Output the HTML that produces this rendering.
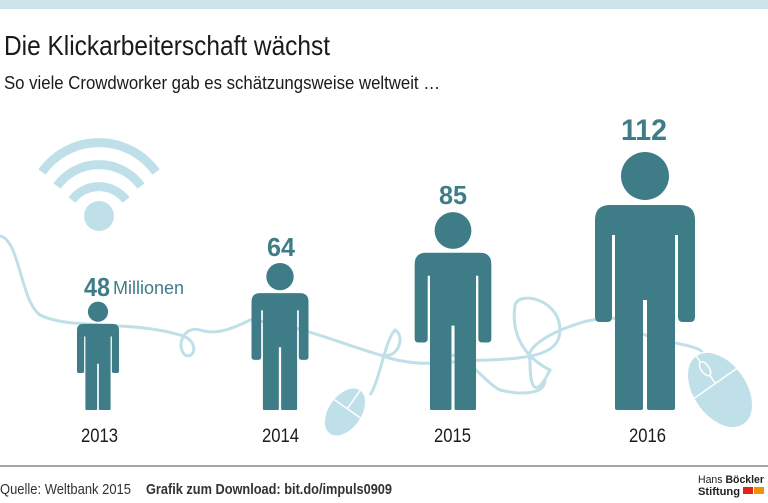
<!DOCTYPE html>
<html><head><meta charset="utf-8"><style>
body{margin:0;width:768px;height:498px;background:#fff;overflow:hidden;font-family:"Liberation Sans",sans-serif;}
</style></head><body>
<svg width="768" height="498" viewBox="0 0 768 498" xmlns="http://www.w3.org/2000/svg">
<defs>
<path id="fig" d="M-50,-190 Q-50,-205 -35,-205 L35,-205 Q50,-205 50,-190 L50,-93 Q50,-88 45,-88 L38,-88 Q33,-88 33,-93 L33,-175 L30,-175 L30,-2 Q30,0 28,0 L4,0 Q2,0 2,-2 L2,-110 L-2,-110 L-2,-2 Q-2,0 -4,0 L-28,0 Q-30,0 -30,-2 L-30,-175 L-33,-175 L-33,-93 Q-33,-88 -38,-88 L-45,-88 Q-50,-88 -50,-93 Z"/>
</defs>
<rect x="0" y="0" width="768" height="9" fill="#cde3ec"/>
<text x="4" y="55" font-size="28" fill="#1a1a1a" textLength="326" lengthAdjust="spacingAndGlyphs">Die Klickarbeiterschaft wächst</text>
<text x="4" y="89" font-size="18" fill="#1a1a1a" textLength="436" lengthAdjust="spacingAndGlyphs">So viele Crowdworker gab es schätzungsweise weltweit …</text>
<!-- wifi -->
<g fill="none" stroke="#bfe0e8" stroke-width="9">
<path d="M42,172 A70,70 0 0 1 156,172"/>
<path d="M57,186 A52,52 0 0 1 141,186"/>
<path d="M72,200 A34,34 0 0 1 126,200"/>
</g>
<ellipse cx="99" cy="216" rx="15" ry="15" fill="#bfe0e8"/>
<!-- cable -->
<g fill="none" stroke="#bfe0e8" stroke-width="3">
<path d="M0,236 C20,240 20,300 40,315 C70,330 130,320 180,335 C200,340 195,360 185,355 C175,345 185,325 200,330 C215,335 230,330 250,320 C300,325 330,340 380,355 C400,360 405,335 395,330 C385,340 380,380 370,395"/>
<path d="M380,355 C420,370 450,360 490,360 C530,358 560,355 560,330 C560,300 520,290 515,305 C510,340 530,360 550,370 C540,390 530,400 530,360 C520,340 600,310 620,320 C650,345 680,340 700,350 L705,355"/>
<path d="M430,360 C460,340 480,380 500,390 C520,395 545,395 545,380"/>
</g>
<g transform="translate(345,412) rotate(35)" fill="#bfe0e8" stroke="#fff" stroke-width="1.5">
<ellipse cx="0" cy="0" rx="17" ry="27"/>
<line x1="-17" y1="-4" x2="17" y2="-4"/><line x1="0" y1="-27" x2="0" y2="-4"/>
</g>
<g transform="translate(720,390) rotate(-35)" fill="#bfe0e8" stroke="#fff" stroke-width="1.5">
<ellipse cx="0" cy="0" rx="27" ry="42"/>
<line x1="-27" y1="-8" x2="27" y2="-8"/><line x1="0" y1="-42" x2="0" y2="-8"/>
<ellipse cx="0" cy="-26" rx="4" ry="8" stroke="#fff" fill="#bfe0e8"/>
</g>
<!-- figures -->
<g fill="#3e7d87">
<g transform="translate(98,410) scale(0.42)"><use href="#fig"/><circle cx="0" cy="-234" r="24"/></g>
<g transform="translate(280,410) scale(0.57)"><use href="#fig"/><circle cx="0" cy="-234" r="24"/></g>
<g transform="translate(453,410) scale(0.767)"><use href="#fig"/><circle cx="0" cy="-234" r="24"/></g>
<g transform="translate(645,410) scale(1)"><use href="#fig"/><circle cx="0" cy="-234" r="24"/></g>
</g>
<g fill="#3e7d87" font-weight="bold" font-size="26" lengthAdjust="spacingAndGlyphs">
<text x="84" y="296" textLength="26" lengthAdjust="spacingAndGlyphs">48</text>
<text x="267" y="256" textLength="28" lengthAdjust="spacingAndGlyphs">64</text>
<text x="439" y="204" textLength="28" lengthAdjust="spacingAndGlyphs">85</text>
<text x="621" y="140" font-size="30" textLength="46" lengthAdjust="spacingAndGlyphs">112</text>
</g>
<text x="113" y="294" font-size="18" fill="#3e7d87" textLength="71" lengthAdjust="spacingAndGlyphs">Millionen</text>
<g font-size="19" fill="#1a1a1a">
<text x="81" y="442" textLength="37" lengthAdjust="spacingAndGlyphs">2013</text>
<text x="262" y="442" textLength="37" lengthAdjust="spacingAndGlyphs">2014</text>
<text x="434" y="442" textLength="37" lengthAdjust="spacingAndGlyphs">2015</text>
<text x="629" y="442" textLength="37" lengthAdjust="spacingAndGlyphs">2016</text>
</g>
<line x1="0" y1="466" x2="768" y2="466" stroke="#888" stroke-width="1.5"/>
<text x="0" y="494" font-size="15" fill="#333" textLength="131" lengthAdjust="spacingAndGlyphs">Quelle: Weltbank 2015</text>
<text x="146" y="494" font-size="15" font-weight="bold" fill="#333" textLength="246" lengthAdjust="spacingAndGlyphs">Grafik zum Download: bit.do/impuls0909</text>
<text x="698" y="483" font-size="11" fill="#222" textLength="66" lengthAdjust="spacingAndGlyphs">Hans <tspan font-weight="bold">Böckler</tspan></text>
<text x="698" y="495" font-size="11" font-weight="bold" fill="#222" textLength="42" lengthAdjust="spacingAndGlyphs">Stiftung</text>
<rect x="743" y="487" width="10" height="7" fill="#e2231a"/><rect x="754" y="487" width="10" height="7" fill="#f39200"/>
</svg>
</body></html>
